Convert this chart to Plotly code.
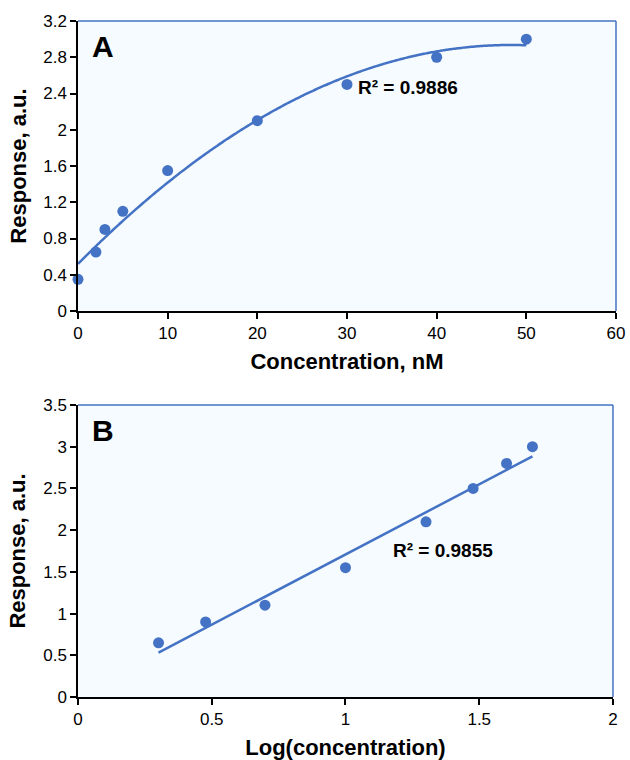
import numpy as np
import plotly.graph_objects as go

# Measured responses
conc_nM = [0, 2, 3, 5, 10, 20, 30, 40, 50]
response = [0.35, 0.65, 0.9, 1.1, 1.55, 2.1, 2.5, 2.8, 3.0]

# Log plot uses the non-zero concentrations
log_conc = [float(np.log10(c)) for c in conc_nM if c > 0]
log_response = [r for c, r in zip(conc_nM, response) if c > 0]

r2_a_label = "R² = 0.9886"
r2_b_label = "R² = 0.9855"

xticks_a = [0, 10, 20, 30, 40, 50, 60]
yticks_a = [0, 0.4, 0.8, 1.2, 1.6, 2, 2.4, 2.8, 3.2]
xticks_b = [0, 0.5, 1, 1.5, 2]
yticks_b = [0, 0.5, 1, 1.5, 2, 2.5, 3, 3.5]

BLUE = "#4472c4"
BG = "#f5fbfe"
FONT = "Arial, Liberation Sans, Helvetica, sans-serif"

# Trendlines: 2nd-order polynomial for A, linear for B
pa = np.polyfit(conc_nM, response, 2)
xa_fit = np.linspace(min(conc_nM), max(conc_nM), 200)
ya_fit = np.polyval(pa, xa_fit)

pb = np.polyfit(log_conc, log_response, 1)
xb_fit = np.array([min(log_conc), max(log_conc)])
yb_fit = np.polyval(pb, xb_fit)

fig = go.Figure()

fig.add_trace(go.Scatter(x=xa_fit, y=ya_fit, mode="lines",
                         line=dict(color=BLUE, width=2.5, shape="spline"),
                         xaxis="x", yaxis="y", showlegend=False))
fig.add_trace(go.Scatter(x=conc_nM, y=response, mode="markers",
                         marker=dict(color=BLUE, size=11),
                         xaxis="x", yaxis="y", showlegend=False, cliponaxis=False))

fig.add_trace(go.Scatter(x=xb_fit, y=yb_fit, mode="lines",
                         line=dict(color=BLUE, width=2.5),
                         xaxis="x2", yaxis="y2", showlegend=False))
fig.add_trace(go.Scatter(x=log_conc, y=log_response, mode="markers",
                         marker=dict(color=BLUE, size=11),
                         xaxis="x2", yaxis="y2", showlegend=False, cliponaxis=False))

axis_common = dict(
    showgrid=False, zeroline=False, showline=True, linecolor="black", linewidth=1.5,
    ticks="outside", ticklen=6, tickwidth=1.5, tickcolor="black", automargin=False,
    tickfont=dict(family=FONT, size=17, color="black"),
)
title_font = dict(family=FONT, size=22, color="black")

fig.update_layout(
    width=630, height=760,
    margin=dict(l=78, r=14, t=21, b=63),
    paper_bgcolor="white",
    plot_bgcolor=BG,
    font=dict(family=FONT, color="black"),
    xaxis=dict(domain=[0, 1], anchor="y", range=[0, 60], tickvals=xticks_a,
               title=dict(text="<b>Concentration, nM</b>", font=title_font, standoff=11),
               **axis_common),
    yaxis=dict(domain=[0.571, 1], anchor="x", range=[0, 3.2], tickvals=yticks_a,
               ticktext=[f"{v:g}" for v in yticks_a],
               title=dict(text="<b>Response, a.u.</b>", font=title_font, standoff=11),
               **axis_common),
    xaxis2=dict(domain=[0, 0.9944], anchor="y2", range=[0, 2], tickvals=xticks_b,
                title=dict(text="<b>Log(concentration)</b>", font=title_font, standoff=11),
                **axis_common),
    yaxis2=dict(domain=[0, 0.432], anchor="x2", range=[0, 3.5], tickvals=yticks_b,
                title=dict(text="<b>Response, a.u.</b>", font=title_font, standoff=11),
                **axis_common),
)

# Blue top and right frame edges of each panel
for xr, yr in (("x domain", "y domain"), ("x2 domain", "y2 domain")):
    fig.add_shape(type="line", xref=xr, yref=yr, x0=0, x1=1, y0=1, y1=1,
                  line=dict(color=BLUE, width=1.5))
    fig.add_shape(type="line", xref=xr, yref=yr, x0=1, x1=1, y0=0, y1=1,
                  line=dict(color=BLUE, width=1.5))

# Panel letters
fig.add_annotation(text="<b>A</b>", xref="x domain", yref="y domain", x=0.022, y=0.975,
                   xanchor="left", yanchor="top", showarrow=False,
                   font=dict(family=FONT, size=30, color="black"))
fig.add_annotation(text="<b>B</b>", xref="x2 domain", yref="y2 domain", x=0.022, y=0.975,
                   xanchor="left", yanchor="top", showarrow=False,
                   font=dict(family=FONT, size=30, color="black"))

# R² labels
fig.add_annotation(text=f"<b>{r2_a_label}</b>", xref="x", yref="y", x=31.0, y=2.47,
                   xanchor="left", yanchor="middle", showarrow=False,
                   font=dict(family=FONT, size=19, color="black"))
fig.add_annotation(text=f"<b>{r2_b_label}</b>", xref="x2", yref="y2", x=1.17, y=1.75,
                   xanchor="left", yanchor="middle", showarrow=False,
                   font=dict(family=FONT, size=19, color="black"))

fig.write_html("out.html")
